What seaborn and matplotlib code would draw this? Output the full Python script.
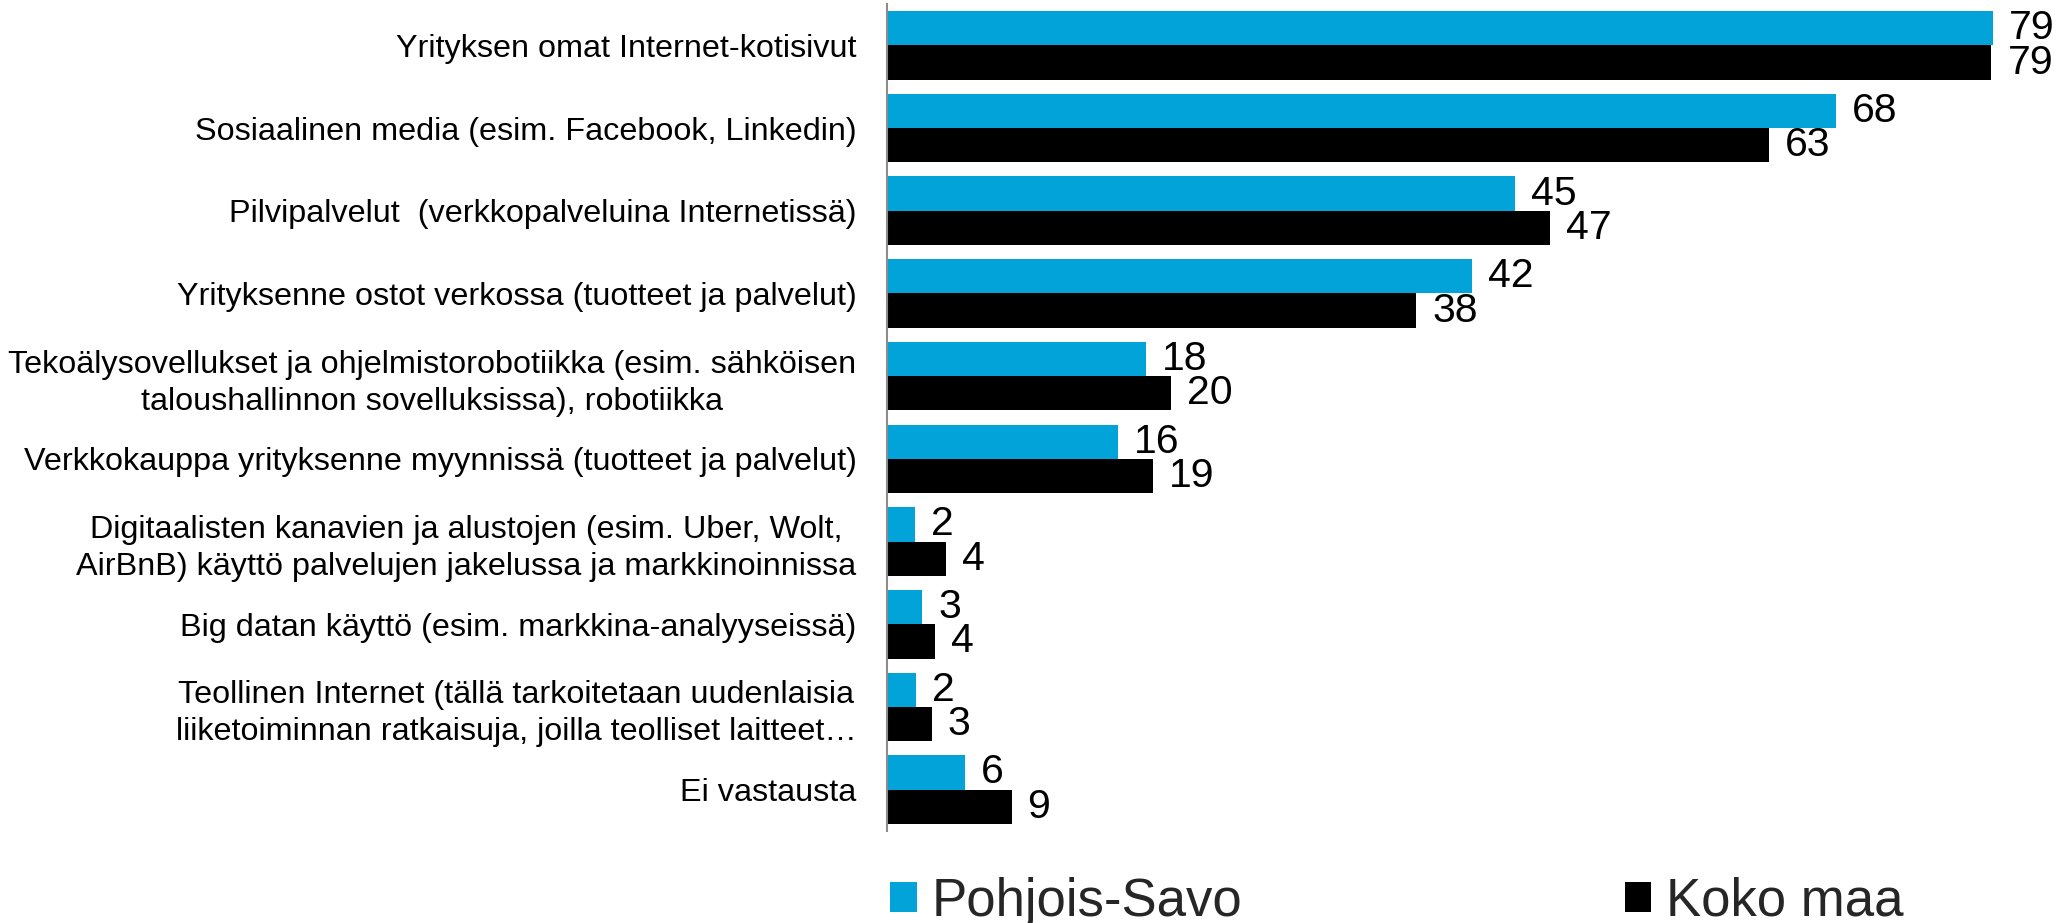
import pandas as pd
import matplotlib
matplotlib.use("Agg")
import matplotlib.pyplot as plt
import seaborn as sns

categories = [
    "Yrityksen omat Internet-kotisivut",
    "Sosiaalinen media (esim. Facebook, Linkedin)",
    "Pilvipalvelut  (verkkopalveluina Internetissä)",
    "Yrityksenne ostot verkossa (tuotteet ja palvelut)",
    "Tekoälysovellukset ja ohjelmistorobotiikka (esim. sähköisen\ntaloushallinnon sovelluksissa), robotiikka",
    "Verkkokauppa yrityksenne myynnissä (tuotteet ja palvelut)",
    "Digitaalisten kanavien ja alustojen (esim. Uber, Wolt,\nAirBnB) käyttö palvelujen jakelussa ja markkinoinnissa",
    "Big datan käyttö (esim. markkina-analyyseissä)",
    "Teollinen Internet (tällä tarkoitetaan uudenlaisia\nliiketoiminnan ratkaisuja, joilla teolliset laitteet…",
    "Ei vastausta",
]
series = ["Pohjois-Savo", "Koko maa"]
pohjois_savo = [79.0, 67.8, 44.9, 41.8, 18.5, 16.5, 2.0, 2.5, 2.1, 5.6]
koko_maa = [78.9, 63.0, 47.4, 37.8, 20.3, 19.0, 4.2, 3.4, 3.2, 8.9]
pohjois_savo_labels = ["79", "68", "45", "42", "18", "16", "2", "3", "2", "6"]
koko_maa_labels = ["79", "63", "47", "38", "20", "19", "4", "4", "3", "9"]

BLUE = "#02A3D9"
BLACK = "#000000"

sns.set_style("white")
plt.rcParams["font.family"] = ["Liberation Sans", "DejaVu Sans"]

df = pd.DataFrame({
    "kohde": categories * 2,
    "osuus": pohjois_savo + koko_maa,
    "alue": [series[0]] * len(categories) + [series[1]] * len(categories),
})

W, H = 2067, 923
fig = plt.figure(figsize=(W / 100, H / 100), dpi=100)
ax = fig.add_axes([887 / W, 1 - 831 / H, 1 - 887 / W, (831 - 4) / H])

sns.barplot(
    data=df, y="kohde", x="osuus", hue="alue", hue_order=series,
    order=categories, orient="h", palette=[BLUE, BLACK],
    width=0.83, saturation=1, linewidth=0, ax=ax,
)

# value labels right of the bars
for cont, labs in zip(ax.containers, [pohjois_savo_labels, koko_maa_labels]):
    ax.bar_label(cont, labels=labs, padding=11.5, fontsize=29.5, color="black")

handles, lab = ax.get_legend_handles_labels()
ax.get_legend().remove()

ax.set_xlim(0, 84.3)
ax.set_ylim(9.5, -0.5)
ax.set_xlabel("")
ax.set_ylabel("")
ax.set_xticks([])
for s in ["top", "right", "bottom"]:
    ax.spines[s].set_visible(False)
ax.spines["left"].set_color("#8c8c8c")
ax.spines["left"].set_linewidth(1.5)
ax.tick_params(axis="y", length=0, pad=22, labelsize=23.3, labelcolor="black")
for t in ax.get_yticklabels():
    t.set_multialignment("center")
    t.set_linespacing(1.3)

fig.legend(
    handles, lab, loc="center left", bbox_to_anchor=(890 / W, 1 - 902 / H),
    ncol=2, frameon=False, fontsize=38, handlelength=0.51, handleheight=0.51,
    handletextpad=0.27, columnspacing=7.25, borderpad=0, borderaxespad=0,
)

fig.savefig("out.png", dpi=100)
